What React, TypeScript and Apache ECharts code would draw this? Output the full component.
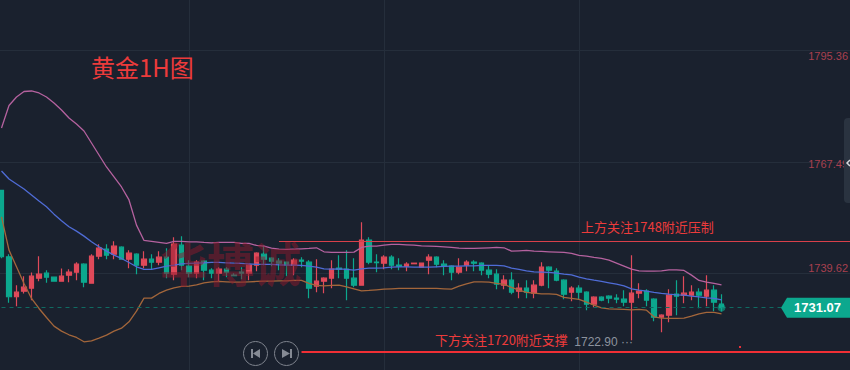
import React, { useEffect, useRef } from "react";
import * as echarts from "echarts";

const opens = [1760.4,1743.8,1733.8,1735.2,1735.95,1738.45,1739.7,1738.7,1737.7,1739.2,1739.95,1741.95,1737.2,1743.95,1745.7,1744.45,1746.2,1743.2,1744.45,1741.7,1743.2,1742.45,1743.7,1739.45,1746.7,1741.45,1739.7,1742.7,1740.45,1739.7,1740.7,1739.2,1739.95,1739.7,1741.7,1744.45,1743.45,1742.7,1742.45,1741.7,1742.95,1742.45,1736.45,1737.7,1738.45,1740.95,1740.7,1738.45,1736.7,1747.95,1742.45,1742.2,1743.7,1741.7,1741.45,1742.05,1741.2,1742.95,1743.7,1741.95,1741.45,1739.95,1741.7,1742.45,1742.2,1740.45,1739.45,1736.7,1737.95,1735.2,1735.95,1734.7,1736.7,1741.2,1740.2,1737.95,1734.95,1735.95,1734.95,1731.95,1733.7,1733.95,1733.45,1733.2,1732.45,1734.7,1735.2,1733.2,1728.7,1729.2,1734.45,1734.2,1734.2,1734.95,1733.95,1735.45,1731.95];
const closes = [1743.8,1733.8,1734.95,1736.2,1738.95,1739.45,1738.7,1737.7,1738.95,1739.95,1741.95,1737.45,1743.95,1745.95,1744.2,1746.45,1743.2,1744.7,1741.7,1743.2,1742.45,1743.7,1739.7,1746.95,1741.7,1739.7,1742.45,1740.45,1739.7,1740.7,1739.95,1739.05,1739.7,1741.7,1744.7,1743.2,1742.7,1742.2,1741.95,1742.95,1742.7,1735.95,1737.7,1738.45,1740.7,1740.7,1738.45,1736.7,1747.95,1742.45,1742.3,1743.7,1741.7,1741.45,1741.95,1742.2,1742.2,1743.7,1741.95,1741.45,1739.95,1741.2,1742.45,1742.2,1740.45,1739.45,1736.95,1737.95,1734.95,1735.95,1734.95,1736.7,1741.2,1740.45,1737.95,1734.45,1735.95,1734.95,1731.95,1733.7,1732.95,1733.45,1733.2,1732.45,1734.7,1735.2,1732.95,1728.7,1729.2,1734.2,1733.95,1734.7,1734.95,1734.2,1735.45,1732.45,1731.07];
const lows = [1743.4,1732.3,1731.45,1734.6,1732.95,1737.7,1737.3,1737.7,1737.7,1737.45,1737.95,1736.2,1737.2,1743.2,1743.2,1743.2,1743.2,1740.95,1739.45,1740.95,1740.6,1741.7,1738.45,1737.95,1740.45,1738.7,1738.45,1737.95,1738.45,1737.7,1738.7,1739.0,1738.2,1737.95,1740.2,1741.7,1741.45,1740.45,1738.95,1739.2,1741.2,1733.45,1734.95,1734.7,1735.95,1738.45,1732.95,1736.2,1736.7,1741.95,1739.95,1740.7,1740.7,1740.45,1740.2,1742.05,1741.2,1739.45,1741.2,1739.2,1737.95,1739.45,1740.2,1740.2,1739.2,1738.45,1735.7,1735.7,1734.45,1733.45,1733.45,1733.45,1736.45,1735.95,1737.7,1733.2,1732.7,1733.2,1730.45,1731.2,1732.7,1732.2,1732.2,1731.45,1722.9,1733.45,1731.45,1727.7,1724.95,1727.45,1729.2,1732.2,1732.95,1730.95,1731.45,1730.2,1730.1];
const highs = [1760.5,1744.4,1736.7,1738.95,1739.87,1743.95,1740.45,1738.7,1740.87,1740.7,1742.45,1742.2,1744.45,1746.95,1746.95,1747.7,1746.45,1745.45,1744.7,1745.2,1744.45,1745.2,1745.95,1748.7,1748.95,1742.95,1742.95,1742.95,1740.95,1741.2,1741.2,1739.7,1741.2,1741.95,1744.95,1746.7,1743.7,1743.45,1742.45,1743.45,1743.7,1742.95,1743.2,1738.7,1742.95,1744.2,1745.45,1743.45,1752.45,1748.7,1744.45,1744.2,1744.2,1743.45,1742.45,1742.2,1742.2,1744.45,1743.95,1742.95,1741.7,1743.45,1742.95,1742.95,1742.45,1741.7,1740.7,1739.2,1739.95,1737.2,1737.95,1737.9,1742.45,1741.45,1740.95,1738.2,1736.45,1736.7,1735.2,1733.95,1733.95,1734.2,1734.45,1735.45,1744.2,1737.2,1735.7,1733.45,1729.45,1735.7,1737.95,1738.95,1736.7,1735.95,1739.2,1736.7,1734.45];

const upperBand = [1775.99,1781.61,1783.74,1785.11,1785.24,1784.74,1783.74,1782.24,1780.49,1778.49,1776.99,1775.24,1772.24,1769.24,1766.24,1763.74,1761.24,1758,1751.7,1747.87,1747.62,1747.37,1747.12,1747.62,1747.62,1747.54,1747.54,1747.37,1747.29,1747.37,1747.37,1747.37,1747.12,1747.12,1746.62,1746.45,1745.95,1745.7,1745.62,1745.7,1745.79,1745.87,1746.04,1745.04,1744.87,1744.87,1744.87,1744.95,1746.12,1746.45,1746.45,1746.7,1746.87,1746.87,1746.79,1746.7,1746.54,1746.45,1746.37,1746.29,1746.12,1745.95,1745.87,1745.87,1745.95,1746.04,1746.12,1746.04,1745.2,1745.29,1745.37,1745.2,1745.12,1745.04,1744.95,1744.87,1744.62,1744.12,1743.95,1743.62,1743.37,1742.95,1742.2,1741.45,1740.7,1740.29,1740.2,1740.2,1740.29,1740.54,1740.54,1740.37,1739.2,1737.87,1737.45,1737.12,1736.79];
const middleBand = [1765.24,1763.24,1761.99,1760.74,1759.24,1757.74,1756.29,1754.45,1752.79,1751.29,1750.2,1748.95,1747.54,1746.29,1745.2,1744.2,1743.37,1742.37,1741.29,1740.62,1740.62,1741.04,1741.45,1741.7,1742.04,1742.12,1742.2,1742.29,1742.37,1742.37,1742.29,1742.2,1742.12,1742.04,1741.87,1741.87,1741.87,1741.79,1741.7,1741.7,1741.62,1741.45,1741.2,1740.79,1740.7,1740.79,1740.62,1740.45,1740.79,1740.95,1740.95,1741.04,1741.2,1741.29,1741.29,1741.2,1741.2,1741.2,1741.29,1741.37,1741.45,1741.45,1741.54,1741.54,1741.62,1741.62,1741.62,1741.54,1740.95,1740.62,1740.29,1740.04,1739.95,1739.87,1739.7,1739.45,1739.29,1738.7,1738.29,1737.95,1737.62,1737.29,1736.95,1736.54,1735.79,1735.45,1735.2,1734.87,1734.62,1734.45,1734.29,1734.2,1733.95,1733.79,1733.54,1733.37,1733.04];
const lowerBand = [1753.79,1745.45,1741.29,1737.12,1733.37,1730.87,1728.62,1726.45,1725.2,1724.29,1723.62,1722.54,1722.79,1723.45,1724.2,1725.2,1725.95,1727.54,1730.2,1733.45,1733.45,1734.62,1735.45,1736.04,1736.37,1736.45,1736.79,1737.29,1737.54,1737.62,1737.54,1737.45,1737.45,1737.54,1737.62,1737.7,1737.7,1737.79,1737.79,1737.87,1737.87,1737.12,1736.62,1736.54,1736.62,1736.7,1736.29,1735.79,1735.29,1735.37,1735.54,1735.7,1735.79,1735.87,1735.87,1735.87,1735.87,1735.87,1735.87,1735.79,1735.7,1736.45,1737.04,1737.54,1737.54,1737.45,1737.12,1736.87,1736.12,1735.45,1734.87,1734.7,1734.54,1734.54,1734.37,1733.62,1733.37,1733.12,1732.45,1731.7,1731.04,1730.79,1730.7,1730.62,1730.54,1730.62,1730.45,1728.79,1728.45,1728.37,1728.37,1728.45,1728.95,1729.54,1729.87,1729.87,1729.54];

const categoryCount = 115;
const categories = Array.from({ length: categoryCount }, (_, i) => String(i));
const priceTicks = [1739.62, 1767.49, 1795.36];
const priceTickStyles = ["low", "mid", "high"];
const verticalGridIndexes = [25, 51, 77];
const lastPrice = 1731.07;
const lowPrice = 1722.9;
const resistance = 1747.7;
const support = 1720;

const candleData = opens.map((o, i) => [o, closes[i], lows[i], highs[i]]);

const RED = "#e04a5a";
const TEAL = "#0ca88e";
const ANNOT = "#ec3b3b";

const bandLine = (name: string, data: number[], color: string) => ({
  name,
  type: "line",
  data,
  symbol: "none",
  silent: true,
  z: 3,
  lineStyle: { color, width: 1.3 },
});

export default function App() {
  const ref = useRef<HTMLDivElement>(null);
  useEffect(() => {
    const chart = echarts.init(ref.current!, undefined, { renderer: "svg" });
    chart.setOption({
      animation: false,
      backgroundColor: "#1a212e",
      grid: { left: -2.25, right: -10.25, top: 0, bottom: 0, containLabel: false, outerBoundsMode: "none" },
      xAxis: {
        type: "category",
        data: categories,
        boundaryGap: true,
        axisLine: { show: false },
        axisTick: { show: false },
        axisLabel: { show: false },
        splitLine: {
          show: true,
          alignWithLabel: true,
          interval: (i: number) => verticalGridIndexes.includes(i),
          lineStyle: { color: "#252e3b", width: 1 },
        },
      },
      yAxis: {
        type: "value",
        position: "right",
        min: 1807.985 - (370 / 4),
        max: 1807.985,
        axisLine: { show: false },
        axisTick: { show: false, customValues: priceTicks },
        splitLine: { show: true, lineStyle: { color: "#252e3b", width: 1 } },
        axisLabel: {
          inside: true,
          margin: 12.25,
          customValues: priceTicks,
          align: "right",
          formatter: (v: number) => {
            const i = priceTicks.indexOf(v);
            return `{${priceTickStyles[i]}|${v.toFixed(2)}}`;
          },
          rich: {
            low: { color: "#a8404f", fontSize: 11, fontFamily: "Liberation Sans", padding: [0, 0, 10, 0] },
            mid: { color: "#a8404f", fontSize: 11, fontFamily: "Liberation Sans", padding: [4, 0, 0, 0] },
            high: { color: "#a8404f", fontSize: 11, fontFamily: "Liberation Sans", padding: [10, 0, 0, 0] },
          },
        },
      },
      series: [
        {
          name: "K",
          type: "candlestick",
          data: candleData,
          barWidth: 5,
          z: 2,
          itemStyle: { color: RED, color0: TEAL, borderColor: RED, borderColor0: TEAL, borderWidth: 1.2 },
          markLine: {
            silent: true,
            symbol: "none",
            animation: false,
            label: { show: false },
            data: [
              [
                { coord: [0, lastPrice], lineStyle: { color: "#0f6b62", type: [4, 4], width: 1 } },
                { coord: [104, lastPrice] },
              ],
              [
                { coord: [37, resistance], lineStyle: { color: "#d8404a", type: "solid", width: 1 } },
                { coord: [114, resistance] },
              ],
              [
                { coord: [40, support], lineStyle: { color: "#f02f35", type: "solid", width: 2 } },
                { coord: [114, support] },
              ],
            ],
          },
          markPoint: {
            silent: true,
            animation: false,
            data: [
              {
                coord: [108, lastPrice],
                symbol: "path://M0,10 L6,0 L69,0 L69,20 L6,20 Z",
                symbolSize: [69, 20],
                symbolOffset: [4, 0],
                itemStyle: { color: TEAL },
                label: {
                  show: true,
                  position: "inside",
                  offset: [2, 0],
                  formatter: lastPrice.toFixed(2),
                  color: "#ffffff",
                  fontWeight: "bold",
                  fontSize: 13,
                  fontFamily: "Liberation Sans",
                },
              },
              {
                coord: [96, lastPrice],
                symbol: "circle",
                symbolSize: 8,
                itemStyle: { color: "rgba(12,168,142,0.6)" },
                label: { show: false },
              },
              {
                coord: [84, lowPrice],
                symbol: "circle",
                symbolSize: 1,
                itemStyle: { color: "rgba(0,0,0,0)" },
                label: {
                  show: true,
                  position: "left",
                  distance: -2,
                  offset: [0, 2],
                  formatter: `${lowPrice.toFixed(2)} ···`,
                  color: "#8d939e",
                  fontSize: 12,
                  fontFamily: "Liberation Sans",
                },
              },
            ],
          },
        },
        bandLine("upper", upperBand, "#b5629f"),
        bandLine("middle", middleBand, "#4f6cd6"),
        bandLine("lower", lowerBand, "#a3663b"),
      ],
      graphic: [
        {
          type: "text", z: 20, silent: true, x: 91, y: 54,
          style: { text: "黄金1H图", fill: ANNOT, font: '24px "Noto Sans CJK SC"' },
        },
        {
          type: "text", z: 20, silent: true, x: 581, y: 220,
          style: { text: "上方关注1748附近压制", fill: ANNOT, font: '13px "Noto Sans CJK SC"' },
        },
        {
          type: "text", z: 20, silent: true, x: 435, y: 333,
          style: { text: "下方关注1720附近支撑", fill: ANNOT, font: '13px "Noto Sans CJK SC"' },
        },
        {
          type: "text", z: 15, silent: true, x: 160, y: 238,
          style: { text: "华博诚", fill: "rgba(140,25,45,0.5)", font: 'bold 47px "Noto Sans CJK SC"' },
        },
        { type: "rect", z: 20, silent: true, shape: { x: 739, y: 346, width: 2, height: 2 }, style: { fill: "#e8303a" } },
        { type: "circle", z: 20, silent: true, shape: { cx: 255.5, cy: 353.5, r: 12 }, style: { fill: "#1a212e", stroke: "#7e838d", lineWidth: 1 } },
        { type: "circle", z: 20, silent: true, shape: { cx: 286.5, cy: 353.5, r: 12 }, style: { fill: "#1a212e", stroke: "#7e838d", lineWidth: 1 } },
        { type: "rect", z: 21, silent: true, shape: { x: 251, y: 349, width: 2, height: 9 }, style: { fill: "#858a94" } },
        { type: "polygon", z: 21, silent: true, shape: { points: [[260, 349], [260, 358], [253, 353.5]] }, style: { fill: "#858a94" } },
        { type: "rect", z: 21, silent: true, shape: { x: 290, y: 349, width: 2, height: 9 }, style: { fill: "#858a94" } },
        { type: "polygon", z: 21, silent: true, shape: { points: [[282, 349], [282, 358], [290, 353.5]] }, style: { fill: "#858a94" } },
        { type: "rect", z: 22, silent: true, shape: { x: 844, y: 118, width: 12, height: 85, r: 4 }, style: { fill: "#2a3340" } },
        { type: "polyline", z: 23, silent: true, shape: { points: [[850, 160], [847, 163], [850, 166]] }, style: { stroke: "#d5d8dd", lineWidth: 1.5, fill: "none" } },
      ],
    });
    return () => chart.dispose();
  }, []);
  return <div ref={ref} style={{ position: "fixed", left: 0, top: 0, width: 850, height: 370 }} />;
}
